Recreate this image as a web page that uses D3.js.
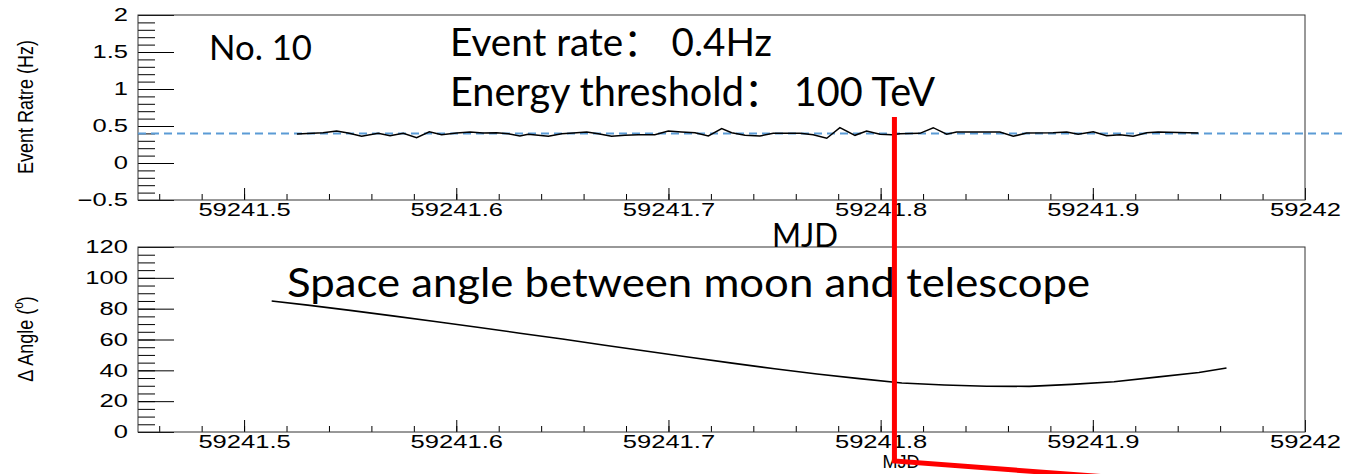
<!DOCTYPE html>
<html>
<head>
<meta charset="utf-8">
<script src="https://cdn.jsdelivr.net/npm/d3@7"></script>
<style>
  html, body { margin: 0; padding: 0; background: #fff; }
  svg { display: block; }
  .tick text { font-family: "Liberation Sans", Arial, sans-serif; font-size: 18px; fill: #000; }
  .tick line { stroke: #000; stroke-width: 1; }
</style>
</head>
<body>
<svg id="chart" width="1347" height="474"></svg>
<script>
// ---- event rate per time bin (MJD, Hz) ----
const rateMjd = [
  59241.5249, 59241.5372, 59241.5436, 59241.5490, 59241.5554, 59241.5632, 59241.5688,
  59241.5750, 59241.5813, 59241.5873, 59241.5931, 59241.6002, 59241.6065, 59241.6126,
  59241.6190, 59241.6245, 59241.6300, 59241.6339, 59241.6434, 59241.6497, 59241.6551,
  59241.6615, 59241.6669, 59241.6732, 59241.6795, 59241.6858, 59241.6936, 59241.6999,
  59241.7062, 59241.7125, 59241.7188, 59241.7251, 59241.7298, 59241.7361, 59241.7431,
  59241.7494, 59241.7620, 59241.7682, 59241.7746, 59241.7808, 59241.7879, 59241.7934,
  59241.7997, 59241.8052, 59241.8091, 59241.8185, 59241.8248, 59241.8311, 59241.8358,
  59241.8421, 59241.8562, 59241.8625, 59241.8688, 59241.8813, 59241.8877, 59241.8931,
  59241.9002, 59241.9065, 59241.9128, 59241.9190, 59241.9254, 59241.9308, 59241.9497
];
const rateHz = [
  0.392, 0.410, 0.432, 0.405, 0.363, 0.401, 0.369,
  0.401, 0.342, 0.423, 0.382, 0.405, 0.419, 0.405,
  0.410, 0.396, 0.365, 0.388, 0.361, 0.396, 0.405,
  0.419, 0.396, 0.361, 0.374, 0.382, 0.382, 0.432,
  0.419, 0.410, 0.365, 0.464, 0.410, 0.374, 0.365,
  0.401, 0.401, 0.382, 0.334, 0.477, 0.374, 0.432,
  0.388, 0.382, 0.396, 0.401, 0.477, 0.388, 0.419,
  0.419, 0.419, 0.361, 0.405, 0.410, 0.419, 0.388,
  0.423, 0.369, 0.382, 0.361, 0.410, 0.419, 0.405
];
const meanRate = 0.4;

// ---- space angle between moon and telescope (MJD, degrees) ----
const angleMjd = [
  59241.513, 59241.530, 59241.550, 59241.570, 59241.590, 59241.610, 59241.630,
  59241.650, 59241.670, 59241.690, 59241.710, 59241.730, 59241.750, 59241.770,
  59241.790, 59241.810, 59241.830, 59241.850, 59241.870, 59241.890, 59241.910,
  59241.930, 59241.950, 59241.963
];
const angleDeg = [
  85.0, 82.3, 78.9, 75.3, 71.7, 67.9, 64.1,
  60.3, 56.3, 52.4, 48.5, 44.7, 41.0, 37.6,
  34.6, 31.8, 30.5, 29.7, 29.6, 30.9, 32.6,
  35.6, 38.6, 41.5
];

// ---- axis ticks ----
const xMajorLabels = ["59241.5", "59241.6", "59241.7", "59241.8", "59241.9", "59242"];
const rateTickLabels = ["\u22120.5", "0", "0.5", "1", "1.5", "2"];
const angleTickLabels = ["0", "20", "40", "60", "80", "100", "120"];

// marked time (MJD)
const markMjd = 59241.8065;

const W = 1347, H = 474;
const svg = d3.select("#chart");
const labelStretch = 1.42;

const x = d3.scaleLinear().domain([59241.45, 59242]).range([138, 1305]);
const yRate = d3.scaleLinear().domain([-0.5, 2]).range([200, 15]);
const yAngle = d3.scaleLinear().domain([0, 120]).range([432, 247]);

const xMajor = xMajorLabels.map(Number);
const xMinor = d3.range(59241.46, 59242.0001, 0.02).map(v => +v.toFixed(2));

function drawPanel(y, tickLabels, minorStep) {
  const [y0, y1] = y.domain();
  const [pyBottom, pyTop] = y.range();
  const yMajor = tickLabels.map(s => +s.replace("\u2212", "-"));
  const yMinor = d3.range(y0, y1 + 1e-9, minorStep).map(v => +v.toFixed(3));

  // x minor ticks
  svg.append("g")
    .attr("transform", `translate(0,${pyBottom})`)
    .call(d3.axisBottom(x).tickValues(xMinor).tickSize(-6).tickFormat(""))
    .call(g => g.select(".domain").remove());

  // x major ticks + labels
  svg.append("g")
    .attr("transform", `translate(0,${pyBottom})`)
    .call(d3.axisBottom(x).tickValues(xMajor).tickSize(-12).tickPadding(3)
      .tickFormat((d, i) => xMajorLabels[i]))
    .call(g => g.select(".domain").remove())
    .call(g => g.selectAll(".tick text").attr("transform", `scale(${labelStretch},1)`));

  // y minor ticks
  svg.append("g")
    .attr("transform", `translate(${x.range()[0]},0)`)
    .call(d3.axisLeft(y).tickValues(yMinor).tickSize(-17).tickFormat(""))
    .call(g => g.select(".domain").remove());

  // y major ticks + labels
  svg.append("g")
    .attr("transform", `translate(${x.range()[0]},0)`)
    .call(d3.axisLeft(y).tickValues(yMajor).tickSize(-36).tickPadding(10)
      .tickFormat((d, i) => tickLabels[i]))
    .call(g => g.select(".domain").remove())
    .call(g => g.selectAll(".tick text")
      .attr("x", -10 / labelStretch)
      .attr("transform", `scale(${labelStretch},1)`));

  // frame
  svg.append("rect")
    .attr("x", x.range()[0]).attr("y", pyTop)
    .attr("width", x.range()[1] - x.range()[0])
    .attr("height", pyBottom - pyTop)
    .attr("fill", "none").attr("stroke", "#333").attr("stroke-width", 1);
}

drawPanel(yRate, rateTickLabels, 0.1);
drawPanel(yAngle, angleTickLabels, 5);

// mean rate reference (dashed)
svg.append("line")
  .attr("x1", x(59241.45)).attr("x2", W)
  .attr("y1", yRate(meanRate)).attr("y2", yRate(meanRate))
  .attr("stroke", "#5b9bd5").attr("stroke-width", 2)
  .attr("stroke-dasharray", "8,5");

// event rate curve
svg.append("path")
  .datum(rateMjd.map((m, i) => [m, rateHz[i]]))
  .attr("fill", "none").attr("stroke", "#000").attr("stroke-width", 1.5)
  .attr("d", d3.line().x(d => x(d[0])).y(d => yRate(d[1])));

// angle curve
svg.append("path")
  .datum(angleMjd.map((m, i) => [m, angleDeg[i]]))
  .attr("fill", "none").attr("stroke", "#000").attr("stroke-width", 1.6)
  .attr("d", d3.line().x(d => x(d[0])).y(d => yAngle(d[1])));

// axis titles
const axisFont = '"Liberation Sans", Arial, sans-serif';
svg.append("text")
  .attr("transform", "translate(33,107) scale(1.22,1) rotate(-90)")
  .attr("text-anchor", "middle")
  .attr("font-family", axisFont).attr("font-size", 18)
  .text("Event Ratre (Hz)");

const angTitle = svg.append("text")
  .attr("transform", "translate(33,339) scale(1.22,1) rotate(-90)")
  .attr("text-anchor", "middle")
  .attr("font-family", axisFont).attr("font-size", 18);
angTitle.append("tspan").text("\u0394 Angle (");
angTitle.append("tspan").attr("font-size", 12).attr("dy", -8).text("o");
angTitle.append("tspan").attr("dy", 8).text(")");

svg.append("text")
  .attr("x", 901).attr("y", 468)
  .attr("text-anchor", "middle")
  .attr("font-family", axisFont).attr("font-size", 18)
  .text("MJD");

// annotations
const noteFont = 'Lato, "Noto Sans CJK SC", sans-serif';
function note(txt, px, py, size, len) {
  svg.append("text")
    .attr("x", px).attr("y", py)
    .attr("font-family", noteFont).attr("font-size", size)
    .attr("textLength", len).attr("lengthAdjust", "spacingAndGlyphs")
    .attr("fill", "#000")
    .text(txt);
}
note("No. 10", 209, 60, 35, 103);
note("Event rate\uFF1A 0.4Hz", 450, 56, 39, 322);
note("Energy threshold\uFF1A 100 TeV", 450, 106, 40, 485);
note("MJD", 772, 247, 32, 66);
note("Space angle between moon and telescope", 287, 297, 40, 803);

// red time marker
const mx = x(markMjd);
svg.append("path")
  .attr("d", d3.line()([[mx, 117], [mx, 461], [W, 495]]))
  .attr("fill", "none").attr("stroke", "#ff0000").attr("stroke-width", 5)
  .attr("stroke-linejoin", "miter");
</script>
</body>
</html>
